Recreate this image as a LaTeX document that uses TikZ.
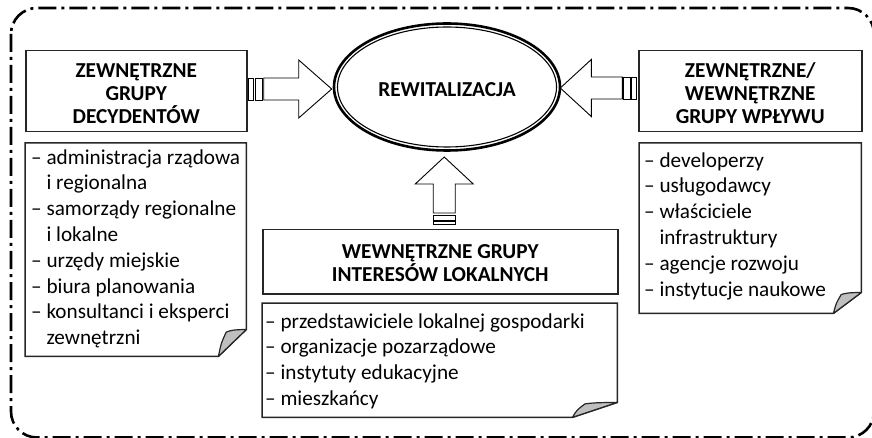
\documentclass[tikz,border=0pt]{standalone}
\usepackage{fontspec}
\setmainfont{Carlito}
\usetikzlibrary{shapes.geometric,calc}
\newcommand{\foldedframe}[3]{%
  \draw[frame] (#1.north west) -- (#1.north east) -- ([yshift=#3pt]#1.south east)
     -- ([xshift=-#2pt]#1.south east) -- (#1.south west) -- cycle;
  \draw[foldfill] ([xshift=-#2pt]#1.south east)
     .. controls ([xshift={-0.9*#2pt},yshift={0.5*#3pt}]#1.south east) .. ([xshift={-0.72*#2pt},yshift={0.9*#3pt}]#1.south east)
     .. controls ([xshift={-0.5*#2pt},yshift={0.98*#3pt}]#1.south east) .. ([yshift=#3pt]#1.south east) -- cycle;
}
\begin{document}
\begin{tikzpicture}[x=1pt,y=-1pt,
  frame/.style={draw=black!85, line width=1.5pt, fill=white},
  boxarea/.style={inner sep=0pt, anchor=north west},
  titlebox/.style={frame, inner sep=0pt, anchor=north west},
  blockarrow/.style={draw=black, line width=0.9pt, fill=white, line join=miter},
  titletext/.style={font=\fontsize{21.3}{23}\selectfont\bfseries, align=center, anchor=base, inner sep=0pt},
  listtext/.style={font=\fontsize{21.2}{25.8}\selectfont, align=left, anchor=base west, inner sep=0pt},
  foldfill/.style={fill=black!25, draw=black!85, line width=1.2pt, line join=round},
  outerframe/.style={draw=black, line width=2.6pt, dash pattern=on 18pt off 5pt on 3pt off 5pt, rounded corners=26pt}
]
\useasboundingbox (0,0) rectangle (872,438);
\draw[outerframe] (11,8) rectangle (874,437.5);

% centre ellipse
\node[draw=black, line width=2.6pt, ellipse, minimum width=226pt, minimum height=127pt, inner sep=0pt] (rew) at (447,87) {};
\draw[line width=1.1pt] (rew.center) ellipse [x radius=109.5pt, y radius=60pt];
\node[titletext] (rewtxt) at (447,97) {REWITALIZACJA};

% left group (base anchor = baseline of the last line)
\node[titlebox, minimum width=221pt, minimum height=81pt] (dec) at (25,50) {};
\node[titletext] (dectxt) at ($(dec.north)+(0,74)$) {ZEWNĘTRZNE\\GRUPY\\DECYDENTÓW};
\path node[boxarea, minimum width=221pt, minimum height=213pt] (decl) at (25,143) {};
\foldedframe{decl}{28}{27}
\node[listtext] (decltxt) at (31,344.6) {– administracja rządowa\\\phantom{– }i regionalna\\– samorządy regionalne\\\phantom{– }i lokalne\\– urzędy miejskie\\– biura planowania\\– konsultanci i eksperci\\\phantom{– }zewnętrzni};

% right group
\node[titlebox, minimum width=223pt, minimum height=81pt] (wpl) at (638,50) {};
\node[titletext] (wpltxt) at ($(wpl.north)+(0,74)$) {ZEWNĘTRZNE/\\WEWNĘTRZNE\\GRUPY WPŁYWU};
\path node[boxarea, minimum width=222pt, minimum height=170pt] (wpll) at (639,143) {};
\foldedframe{wpll}{28}{21}
\node[listtext] (wplltxt) at (644,296) {– developerzy\\– usługodawcy\\– właściciele\\\phantom{– }infrastruktury\\– agencje rozwoju\\– instytucje naukowe};

% middle group
\node[titlebox, minimum width=355pt, minimum height=64pt] (lok) at (262,229) {};
\node[titletext] (loktxt) at ($(lok.north)+(0,52)$) {WEWNĘTRZNE GRUPY\\INTERESÓW LOKALNYCH};
\path node[boxarea, minimum width=355pt, minimum height=114pt] (lokl) at (262,303) {};
\foldedframe{lokl}{45}{15}
\node[listtext] (lokltxt) at (265,405.4) {– przedstawiciele lokalnej gospodarki\\– organizacje pozarządowe\\– instytuty edukacyjne\\– mieszkańcy};

% striped block arrows
\coordinate (la) at ($(rew.west)+(-1,2)$);
\draw[blockarrow] (la) -- ++(-33,-29) -- ++(0,18) -- ++(-35,0) -- ++(0,22) -- ++(35,0) -- ++(0,18) -- cycle;
\draw[blockarrow] ($(la)+(-76.3,-11)$) rectangle ++(7,22);
\draw[blockarrow] ($(la)+(-83,-11)$) rectangle ++(4.7,22);

\coordinate (ra) at ($(rew.east)+(-1,1)$);
\draw[blockarrow] (ra) -- ++(31,-28.5) -- ++(0,17.5) -- ++(31,0) -- ++(0,22) -- ++(-31,0) -- ++(0,17.5) -- cycle;
\draw[blockarrow] ($(ra)+(63.5,-11)$) rectangle ++(6.5,22);
\draw[blockarrow] ($(ra)+(71.5,-11)$) rectangle ++(4.5,22);

\coordinate (ua) at ($(lok.north)+(4,-72)$);
\draw[blockarrow] (ua) -- ++(29,27) -- ++(-18,0) -- ++(0,29) -- ++(-22,0) -- ++(0,-29) -- ++(-18,0) -- cycle;
\draw[blockarrow] ($(ua)+(-11,58)$) rectangle ++(22,5);
\draw[blockarrow] ($(ua)+(-11,64.5)$) rectangle ++(22,3);
\end{tikzpicture}
\end{document}
